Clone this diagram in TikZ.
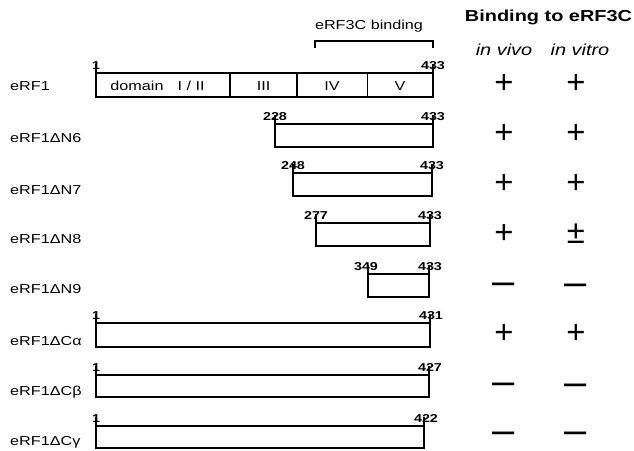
\documentclass[tikz,border=0pt]{standalone}
\usepackage{fontspec}
\setmainfont{Liberation Sans}[FakeStretch=1.25]
\newfontfamily\symf{Liberation Sans}
\begin{document}
\begin{tikzpicture}[x=1bp,y=-1bp,
  lbl/.style={anchor=base west,inner sep=0,font=\fontsize{13}{15}\selectfont},
  num/.style={anchor=south,inner sep=0,font=\bfseries\fontsize{11.5}{13}\selectfont},
  dom/.style={anchor=base,inner sep=0,font=\fontsize{13}{15}\selectfont},
  bx/.style={draw,line width=1.1bp},
  tk/.style={draw,line width=1.1bp},
  pls/.style={inner sep=0,font=\symf\fontsize{33}{35}\selectfont},
  mns/.style={inner sep=0,yshift=-5bp,font=\symf\fontsize{40}{42}\selectfont},
  hdr/.style={anchor=base,inner sep=0,font=\bfseries\fontsize{16}{18}\selectfont},
  itl/.style={anchor=base,inner sep=0,font=\itshape\fontsize{16}{18}\selectfont}]
\useasboundingbox (0,0) rectangle (634,451);

% header
\node[hdr] (hdr) at (548.5,22) {Binding to eRF3C};
\node[itl] (vivo) at (504,56) {in vivo};
\node[itl] (vitro) at (580,56) {in vitro};

% eRF3C binding bracket
\node[dom] (bind) at (369,29.5) {eRF3C binding};
\coordinate (brL) at (315,48);
\coordinate (brR) at (433,48);
\draw[line width=1.1bp] (brL) -- ++(0,-7) -| (brR);

% eRF1 full
\node[lbl] (l0) at (10,91) {eRF1};
\draw[bx] (96,73) rectangle (433,97);
\draw[bx] (230,73) -- (230,97) (297,73) -- (297,97) (367.5,73) -- (367.5,97);
\draw[tk] (96,73) -- ++(0,-9) (433,73) -- ++(0,-9);
\node[num] (a0) at (96,70) {1};
\node[num] (b0) at (433,70) {433};
\node[dom] (d12) at (157.5,91) {domain\hspace{14bp}I / II};
\node[dom] (d3) at (263.5,91) {III};
\node[dom] (d4) at (332,91) {IV};
\node[dom] (d5) at (400,91) {V};
\node[pls] (p0a) at (504,84) {+};
\node[pls] (p0b) at (576,84) {+};

% N6
\node[lbl] (l1) at (10,142.5) {eRF1ΔN6};
\draw[bx] (275,124) rectangle (433,147);
\draw[tk] (275,124) -- ++(0,-9) (433,124) -- ++(0,-9);
\node[num] (a1) at (275,121) {228};
\node[num] (b1) at (433,121) {433};
\node[pls] (p1a) at (504,134) {+};
\node[pls] (p1b) at (576,134) {+};

% N7
\node[lbl] (l2) at (10,194.5) {eRF1ΔN7};
\draw[bx] (293,173) rectangle (432,196);
\draw[tk] (293,173) -- ++(0,-9) (432,173) -- ++(0,-9);
\node[num] (a2) at (293,170) {248};
\node[num] (b2) at (432,170) {433};
\node[pls] (p2a) at (504,184) {+};
\node[pls] (p2b) at (576,184) {+};

% N8
\node[lbl] (l3) at (10,243.5) {eRF1ΔN8};
\draw[bx] (316,223) rectangle (430,246);
\draw[tk] (316,223) -- ++(0,-9) (430,223) -- ++(0,-9);
\node[num] (a3) at (316,220) {277};
\node[num] (b3) at (430,220) {433};
\node[pls] (p3a) at (504,234) {+};
\node[pls] (p3b) at (576,234) {±};

% N9
\node[lbl] (l4) at (10,293.5) {eRF1ΔN9};
\draw[bx] (368,274) rectangle (429,297);
\draw[tk] (368,274) -- ++(0,-9) (429,274) -- ++(0,-9);
\node[num] (a4) at (366,271) {349};
\node[num] (b4) at (430,271) {433};
\node[mns] (p4a) at (504,284) {–};
\node[mns] (p4b) at (576,285) {–};

% C alpha
\node[lbl] (l5) at (10,345) {eRF1ΔCα};
\draw[bx] (96,323) rectangle (430,347);
\draw[tk] (96,323) -- ++(0,-9) (430,323) -- ++(0,-9);
\node[num] (a5) at (96,320) {1};
\node[num] (b5) at (431,320) {431};
\node[pls] (p5a) at (504,334) {+};
\node[pls] (p5b) at (576,334) {+};

% C beta
\node[lbl] (l6) at (10,395) {eRF1ΔCβ};
\draw[bx] (96,375) rectangle (429,397);
\draw[tk] (96,375) -- ++(0,-9) (429,375) -- ++(0,-9);
\node[num] (a6) at (96,372) {1};
\node[num] (b6) at (430,372) {427};
\node[mns] (p6a) at (504,384) {–};
\node[mns] (p6b) at (576,385) {–};

% C gamma
\node[lbl] (l7) at (10,445) {eRF1ΔCγ};
\draw[bx] (96,426) rectangle (424,448);
\draw[tk] (96,426) -- ++(0,-9) (424,426) -- ++(0,-9);
\node[num] (a7) at (96,423) {1};
\node[num] (b7) at (426,423) {422};
\node[mns] (p7a) at (504,433) {–};
\node[mns] (p7b) at (576,433) {–};
\end{tikzpicture}
\end{document}
